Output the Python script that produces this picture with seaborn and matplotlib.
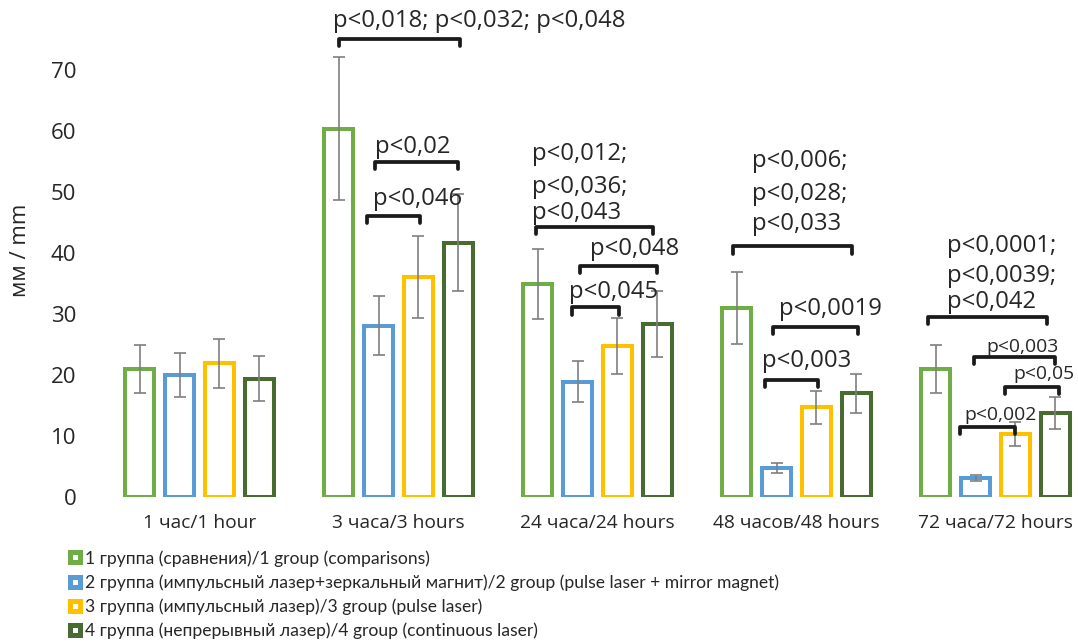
import matplotlib
matplotlib.use("Agg")
import matplotlib.pyplot as plt
import seaborn as sns
import pandas as pd
from matplotlib.lines import Line2D

# ---------------- data ----------------
categories = ["1 час/1 hour", "3 часа/3 hours", "24 часа/24 hours",
              "48 часов/48 hours", "72 часа/72 hours"]
groups = ["1 группа (сравнения)/1 group (comparisons)",
          "2 группа (импульсный лазер+зеркальный магнит)/2 group (pulse laser + mirror magnet)",
          "3 группа (импульсный лазер)/3 group (pulse laser)",
          "4 группа (непрерывный лазер)/4 group (continuous laser)"]
group1_mean = [21.0, 60.4, 34.9, 31.0, 21.0]
group2_mean = [20.0, 28.1, 18.9, 4.8, 3.1]
group3_mean = [21.9, 36.1, 24.8, 14.7, 10.3]
group4_mean = [19.4, 41.7, 28.4, 17.0, 13.8]
group1_err = [4.0, 11.7, 5.7, 5.9, 4.0]
group2_err = [3.6, 4.9, 3.4, 0.8, 0.5]
group3_err = [4.0, 6.7, 4.6, 2.7, 2.0]
group4_err = [3.7, 7.9, 5.4, 3.2, 2.6]
yticks = [0, 10, 20, 30, 40, 50, 60, 70]
ylabel = "мм / mm"

# significance annotations: (category, x-offset start, x-offset end, bracket level, [(text, dx, y)], small)
brackets = [
    (1, -0.30, 0.31, 75.1, [("p<0,018; p<0,032; p<0,048", -0.33, 77.0)], False),
    (1, -0.12, 0.30, 54.9, [("p<0,02", -0.12, 56.4)], False),
    (1, -0.16, 0.11, 46.1, [("p<0,046", -0.13, 47.9)], False),
    (2, -0.31, 0.28, 44.3, [("p<0,012;", -0.33, 55.2), ("p<0,036;", -0.33, 49.8),
                            ("p<0,043", -0.33, 45.6)], False),
    (2, -0.09, 0.30, 37.9, [("p<0,048", -0.04, 39.7)], False),
    (2, -0.13, 0.11, 31.1, [("p<0,045", -0.145, 32.6)], False),
    (3, -0.32, 0.28, 41.1, [("p<0,006;", -0.224, 54.1), ("p<0,028;", -0.224, 48.7),
                            ("p<0,033", -0.224, 43.8)], False),
    (3, -0.12, 0.31, 27.9, [("p<0,0019", -0.088, 29.8)], False),
    (3, -0.16, 0.11, 19.2, [("p<0,003", -0.173, 21.3)], False),
    (4, -0.34, 0.26, 29.5, [("p<0,0001;", -0.244, 40.2), ("p<0,0039;", -0.244, 35.2),
                            ("p<0,042", -0.244, 31.0)], False),
    (4, -0.11, 0.30, 23.0, [("p<0,003", -0.048, 23.8)], True),
    (4, 0.05, 0.32, 18.1, [("p<0,05", 0.088, 19.3)], True),
    (4, -0.18, 0.10, 11.5, [("p<0,002", -0.158, 12.6)], True),
]

colors = ["#70AD47", "#5B9BD5", "#FFC000", "#476B30"]

# ---------------- frame ----------------
means = [group1_mean, group2_mean, group3_mean, group4_mean]
errs = [group1_err, group2_err, group3_err, group4_err]
rows = []
for g, (m, e) in enumerate(zip(means, errs)):
    for c, cat in enumerate(categories):
        rows.append({"cat": cat, "group": groups[g], "mean": m[c], "err": e[c]})
df = pd.DataFrame(rows)

sns.set_theme(style="white")
plt.rcParams["font.family"] = ["Open Sans", "DejaVu Sans"]
TXT = "#262626"

fig = plt.figure(figsize=(10.78, 6.43), dpi=100)
ax = fig.add_axes([100 / 1078, 1 - 497 / 643, 978 / 1078, 497 / 643])

sns.barplot(data=df, x="cat", y="mean", hue="group", order=categories,
            hue_order=groups, palette=colors, errorbar=None, gap=0.28,
            fill=False, linewidth=2.9, legend=False, ax=ax)

# color the bar edges and draw error bars from the patch geometry
for g, grp in enumerate(groups):
    cont = ax.containers[g]
    xs = []
    for bar in cont:
        bar.set_edgecolor(colors[g])
        bar.set_facecolor("white")
        bar.set_linewidth(2.9)
        bar.set_joinstyle("miter")
        xs.append(bar.get_x() + bar.get_width() / 2)
    sub = df[df.group == grp].set_index("cat").loc[categories]
    ax.errorbar(xs, sub["mean"].values, yerr=sub["err"].values, fmt="none",
                ecolor="#7F7F7F", elinewidth=1.2, capsize=4, capthick=1.2, zorder=5)

for (c, x1, x2, yl, texts, small) in brackets:
    d = 1.2
    ax.plot([c + x1, c + x1, c + x2, c + x2], [yl - d, yl, yl, yl - d],
            color="#1A1A1A", lw=2.7, solid_capstyle="round",
            solid_joinstyle="round", zorder=6, clip_on=False)
    for (t, dx, ty) in texts:
        ax.text(c + dx, ty, t, ha="left", va="baseline",
                fontsize=13.9 if small else 17.2, color=TXT, zorder=7)

ax.set_ylim(0, 497 / 6.1)
ax.set_xlim(-0.5, 4.5 - 17 / 199)
ax.set_yticks(yticks)
ax.set_yticklabels([str(v) for v in yticks])
ax.set_xlabel("")
ax.set_ylabel("")
for s in ax.spines.values():
    s.set_visible(False)
ax.tick_params(axis="y", length=0, pad=17, labelsize=16, labelcolor=TXT)
ax.tick_params(axis="x", length=0, pad=12, labelsize=13.8, labelcolor=TXT)
ax.grid(False)

fig.text(21 / 1078, 1 - 250 / 643, ylabel, rotation=90, ha="center", va="center",
         fontsize=16, color=TXT)

handles = [Line2D([], [], marker="s", linestyle="", markersize=7.2,
                  markerfacecolor="white", markeredgecolor=col, markeredgewidth=3.6)
           for col in colors]
fig.legend(handles, groups, loc="upper left", bbox_to_anchor=(66.5 / 1078, 1 - 550 / 643),
           frameon=False, borderpad=0, borderaxespad=0, handlelength=1.0,
           handletextpad=0.05, labelspacing=0.44,
           prop={"family": ["Liberation Sans Narrow", "Lato", "DejaVu Sans"], "size": 12.6},
           labelcolor=TXT)

fig.savefig("out.png", dpi=100)
